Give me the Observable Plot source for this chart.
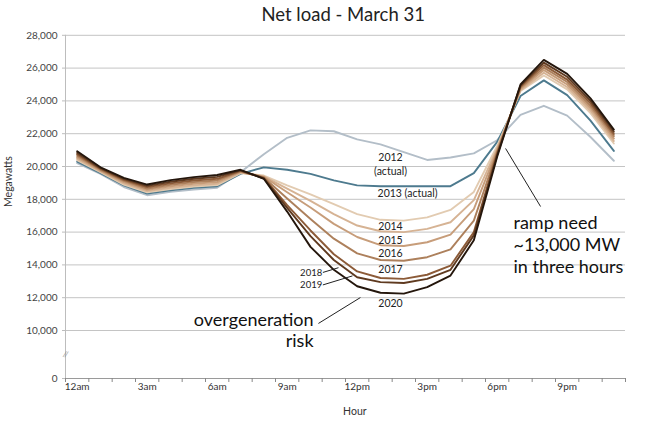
<!DOCTYPE html>
<html>
<head>
<meta charset="utf-8">
<script src="https://cdn.jsdelivr.net/npm/d3@7"></script>
<script src="https://cdn.jsdelivr.net/npm/@observablehq/plot@0.6"></script>
<style>
  html, body { margin: 0; padding: 0; background: #fff; }
  #chart { width: 650px; height: 424px; }
  svg { font-family: Lato, "Noto Sans", sans-serif; }
</style>
</head>
<body>
<div id="chart"></div>
<script>
// Hour index (0 = 12am ... 23 = 11pm)
const hours = [0,1,2,3,4,5,6,7,8,9,10,11,12,13,14,15,16,17,18,19,20,21,22,23];

// Net load (MW) per scenario year
const load2012 = [20200,19550,18750,18250,18450,18600,18700,19650,20750,21750,22200,22150,21650,21350,20880,20400,20550,20800,21600,23150,23700,23100,21800,20350];
const load2013 = [20300,19600,18850,18350,18550,18700,18800,19550,19950,19800,19550,19150,18850,18800,18800,18800,18800,19600,21500,24300,25250,24350,22800,20950];
const load2014 = [20380,19650,18900,18420,18620,18770,18870,19600,19450,18850,18300,17700,17100,16750,16700,16900,17350,18450,21250,24600,25550,24700,23250,21400];
const load2015 = [20470,19700,18970,18500,18700,18850,18950,19630,19400,18650,17900,17100,16400,16050,16000,16200,16600,17950,21100,24650,25720,24850,23400,21550];
const load2016 = [20550,19750,19050,18580,18790,18950,19050,19670,19370,18430,17500,16500,15700,15200,15150,15380,15850,17400,21000,24720,25880,25000,23550,21700];
const load2017 = [20640,19800,19120,18660,18880,19050,19150,19700,19330,18050,16800,15600,14700,14300,14250,14470,14950,16700,20900,24800,26030,25150,23700,21850];
const load2018 = [20730,19850,19190,18740,18970,19150,19250,19730,19300,17650,16100,14650,13600,13200,13150,13400,13950,16000,20800,24870,26180,25300,23850,21980];
const load2019 = [20830,19900,19250,18820,19070,19250,19370,19770,19270,17480,15750,14300,13250,12950,12900,13150,13700,15800,20700,24930,26330,25470,24000,22120];
const load2020 = [20930,19950,19310,18900,19170,19350,19480,19800,19250,17250,15100,13700,12700,12300,12250,12640,13350,15500,20600,25000,26500,25650,24150,22250];

const seriesNames = ["2012","2013","2014","2015","2016","2017","2018","2019","2020"];
const seriesValues = [load2012,load2013,load2014,load2015,load2016,load2017,load2018,load2019,load2020];
const seriesColors = ["#b3bec8","#4d7a8e","#e2cbb1","#d6b394","#c79d7a","#ad805c","#8c5b38","#5f3a20","#24160c"];

// Axis ticks
const xTickHours = [0,3,6,9,12,15,18,21];
const xTickLabels = ["12am","3am","6am","9am","12pm","3pm","6pm","9pm"];
const hourEdges = [-0.5,0.5,1.5,2.5,3.5,4.5,5.5,6.5,7.5,8.5,9.5,10.5,11.5,12.5,13.5,14.5,15.5,16.5,17.5,18.5,19.5,20.5,21.5,22.5,23.5];
const yTicks = [0,10000,12000,14000,16000,18000,20000,22000,24000,26000,28000];
const yGrid = [10000,12000,14000,16000,18000,20000,22000,24000,26000,28000];

// Annotations
const yearLabels = [
  {text: "2012", hour: 13.43, mw: 20550},
  {text: "(actual)", hour: 13.43, mw: 19690},
  {text: "2013 (actual)", hour: 14.16, mw: 18350},
  {text: "2014", hour: 13.43, mw: 16340},
  {text: "2015", hour: 13.43, mw: 15490},
  {text: "2016", hour: 13.43, mw: 14690},
  {text: "2017", hour: 13.43, mw: 13720},
  {text: "2020", hour: 13.43, mw: 11650}
];
const sideLabels = [
  {text: "2018", hour: 10.5, mw: 13520},
  {text: "2019", hour: 10.5, mw: 12760}
];
const leaders = [
  {x1: 10.53, y1: 13540, x2: 11.2, y2: 13830},
  {x1: 10.53, y1: 12780, x2: 11.8, y2: 13330},
  {x1: 10.34, y1: 10430, x2: 12.14, y2: 12010},
  {x1: 18.36, y1: 21100, x2: 19.86, y2: 17560}
];

const rows = [];
seriesNames.forEach((name, i) => {
  seriesValues[i].forEach((v, j) => rows.push({year: name, hour: hours[j], mw: v}));
});

const chart = Plot.plot({
  width: 650,
  height: 424,
  marginLeft: 65,
  marginRight: 25,
  marginTop: 35,
  marginBottom: 46,
  style: {background: "#fff", fontFamily: "Lato, 'Noto Sans', sans-serif"},
  x: {type: "linear", domain: [-0.5, 23.5], range: [65, 625]},
  y: {type: "linear", domain: [0, 10000, 28000], range: [378, 330, 34.8]},
  color: {domain: seriesNames, range: seriesColors},
  marks: [
    Plot.gridY(yGrid, {stroke: "#c4c4c4", strokeOpacity: 1, strokeWidth: 1}),
    Plot.ruleX([-0.5], {y1: 0, y2: 28000, stroke: "#bdbdbd"}),
    Plot.ruleY([0], {stroke: "#9a9a9a"}),
    Plot.axisY(yTicks, {tickSize: 3, tickPadding: 5, tickFormat: d3.format(","), fontSize: 10, fill: "#444", stroke: "#bdbdbd", label: null}),
    Plot.axisX(hourEdges, {tickSize: 4, tickFormat: () => "", stroke: "#888", label: null}),
    Plot.axisX(xTickHours, {tickSize: 0, tickPadding: 4, tickFormat: (d) => xTickLabels[xTickHours.indexOf(d)], fontSize: 10, fill: "#333", label: null}),
    Plot.text(["//"], {x: -0.5, y: 5000, fontSize: 8, fill: "#888", rotate: 10}),
    Plot.text(["Megawatts"], {frameAnchor: "left", dx: -57, rotate: -90, fontSize: 10.5, fill: "#333"}),
    Plot.text(["Hour"], {x: 11.9, y: 0, dy: 33, fontSize: 10.5, fill: "#333"}),
    Plot.text(["Net load - March 31"], {x: 11.4, y: 28000, dy: -20, fontSize: 18.5, fill: "#222"}),
    Plot.line(rows, {x: "hour", y: "mw", z: "year", stroke: "year", strokeWidth: 1.9, curve: "linear"}),
    Plot.text(yearLabels, {x: "hour", y: "mw", text: "text", fontSize: 10.5, fill: "#222"}),
    Plot.text(sideLabels, {x: "hour", y: "mw", text: "text", fontSize: 9.5, fill: "#222", textAnchor: "end"}),
    Plot.link(leaders, {x1: "x1", y1: "y1", x2: "x2", y2: "y2", stroke: "#222", strokeWidth: 1}),
    Plot.text(["overgeneration"], {x: 10.13, y: 10610, fontSize: 18, fill: "#111", textAnchor: "end"}),
    Plot.text(["risk"], {x: 10.13, y: 10610, dy: 21, fontSize: 18, fill: "#111", textAnchor: "end"}),
    Plot.text(["ramp need"], {x: 18.7, y: 16520, fontSize: 18, fill: "#111", textAnchor: "start"}),
    Plot.text(["~13,000 MW"], {x: 18.7, y: 16520, dy: 22, fontSize: 18, fill: "#111", textAnchor: "start"}),
    Plot.text(["in three hours"], {x: 18.7, y: 16520, dy: 44, fontSize: 18, fill: "#111", textAnchor: "start"})
  ]
});
document.getElementById("chart").appendChild(chart);
</script>
</body>
</html>
